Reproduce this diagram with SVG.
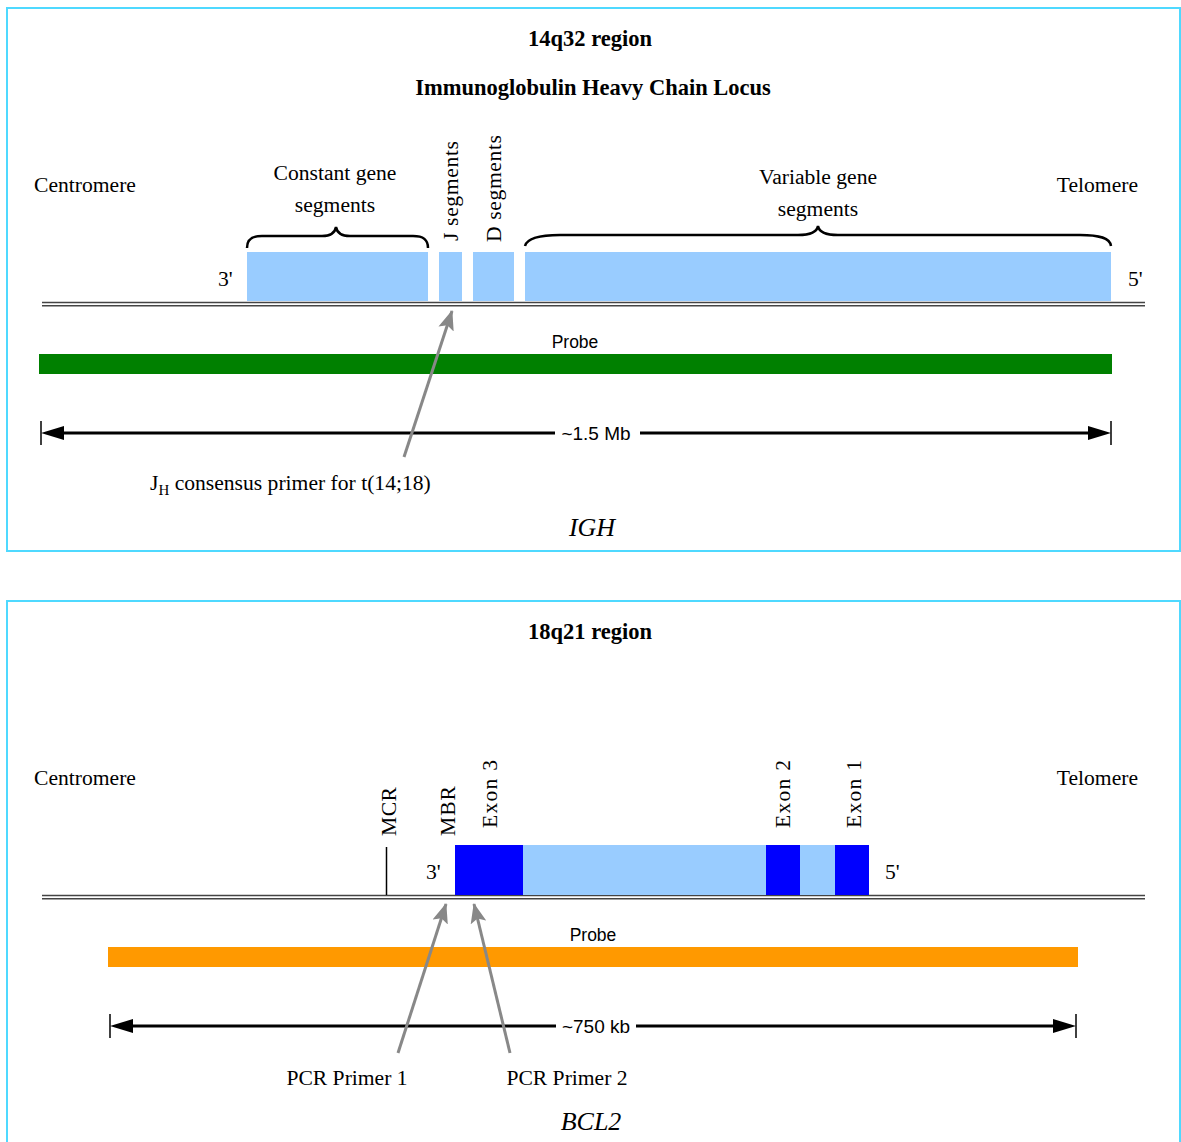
<svg xmlns="http://www.w3.org/2000/svg" width="1181" height="1142" viewBox="0 0 1181 1142">
<style>
.panel{fill:#fff;stroke:#4fd9ff;stroke-width:2}
.serif{font-family:"Liberation Serif","Times New Roman",serif;fill:#000}
.t{font-size:21.6px}
.title{font-size:22.5px;font-weight:bold}
.sans{font-family:"Liberation Sans",Arial,sans-serif;font-size:17.5px;fill:#000}
.dimtxt{font-size:19px}
.chrom{stroke:#444;stroke-width:1.4}
.brace{fill:none;stroke:#000;stroke-width:2.5}
.dim{stroke:#000;stroke-width:3}
.tick{stroke:#000;stroke-width:1.5}
.ptr{stroke:#888;stroke-width:3}
.lb{fill:#99ccff}
.db{fill:#0000ff}
</style>
<defs>
<marker id="gray" viewBox="0 0 20 16" refX="19" refY="8" markerWidth="20" markerHeight="16" markerUnits="userSpaceOnUse" orient="auto">
<path d="M0,0 L20,8 L0,16 L4,8 Z" fill="#888"/>
</marker>
</defs>
<rect class="panel" x="7" y="8" width="1173" height="543"/>
<rect class="panel" x="7" y="601" width="1173" height="600"/>

<g id="igh-panel">
<g id="igh-titles">
<text class="serif title" x="590" y="46" text-anchor="middle">14q32 region</text>
<text class="serif title" x="593" y="95" text-anchor="middle">Immunoglobulin Heavy Chain Locus</text>
<text class="serif t" x="34" y="192">Centromere</text>
<text class="serif t" x="1138" y="192" text-anchor="end">Telomere</text>
</g>
<g id="igh-chromosome">
<line class="chrom" x1="42" y1="302.5" x2="1145" y2="302.5"/>
<line class="chrom" x1="42" y1="305.8" x2="1145" y2="305.8"/>
</g>
<g id="constant">
<rect class="lb" x="247" y="252" width="181" height="49"/>
<path class="brace" d="M247,248 C247,239 252,236 262,236 L322,236 C331,236 335,233 336,227 C337,233 341,236 350,236 L413,236 C423,236 428,239 428,248"/>
<text class="serif t" x="335" y="180" text-anchor="middle">Constant gene</text>
<text class="serif t" x="335" y="212" text-anchor="middle">segments</text>
</g>
<g id="j-seg">
<rect class="lb" x="439" y="252" width="23" height="49"/>
<text class="serif t" transform="translate(458,241) rotate(-90)" textLength="100">J segments</text>
</g>
<g id="d-seg">
<rect class="lb" x="473" y="252" width="41" height="49"/>
<text class="serif t" transform="translate(501,242) rotate(-90)" textLength="107">D segments</text>
</g>
<g id="variable">
<rect class="lb" x="525" y="252" width="586" height="49"/>
<path class="brace" d="M525,246 C527,238 540,235 560,235 L798,235 C811,235 817,232 818,226 C819,232 825,235 838,235 L1080,235 C1100,235 1110,238 1111,246"/>
<text class="serif t" x="818" y="184" text-anchor="middle">Variable gene</text>
<text class="serif t" x="818" y="216" text-anchor="middle">segments</text>
</g>
<text class="serif t" x="218" y="286">3'</text>
<text class="serif t" x="1128" y="286">5'</text>
<g id="igh-probe">
<text class="sans" x="575" y="348" text-anchor="middle">Probe</text>
<rect x="39" y="354" width="1073" height="20" fill="#008000"/>
</g>
<g id="igh-scale">
<line class="tick" x1="41" y1="421" x2="41" y2="445"/>
<line class="tick" x1="1111" y1="421" x2="1111" y2="445"/>
<line class="dim" x1="60" y1="433" x2="555" y2="433"/>
<line class="dim" x1="640" y1="433" x2="1092" y2="433"/>
<polygon points="41,433 64,426 64,440"/>
<polygon points="1111,433 1088,426 1088,440"/>
<text class="sans dimtxt" x="596" y="440" text-anchor="middle">~1.5 Mb</text>
</g>
<g id="jh-primer">
<text class="serif t" x="150" y="490">J<tspan font-size="15" dy="5">H</tspan><tspan dy="-5"> consensus primer for t(14;18)</tspan></text>
</g>
<text class="serif" x="592" y="536" text-anchor="middle" font-size="26" font-style="italic">IGH</text>
</g>

<g id="bcl2-panel">
<g id="bcl2-titles">
<text class="serif title" x="590" y="639" text-anchor="middle">18q21 region</text>
<text class="serif t" x="34" y="785">Centromere</text>
<text class="serif t" x="1138" y="785" text-anchor="end">Telomere</text>
</g>
<g id="bcl2-chromosome">
<line class="chrom" x1="42" y1="895.5" x2="1145" y2="895.5"/>
<line class="chrom" x1="42" y1="898.8" x2="1145" y2="898.8"/>
</g>
<g id="mcr">
<line x1="386.5" y1="847" x2="386.5" y2="895" stroke="#000" stroke-width="1.5"/>
<text class="serif t" transform="translate(396,836) rotate(-90)" textLength="49">MCR</text>
</g>
<g id="mbr">
<text class="serif t" transform="translate(455,836) rotate(-90)" textLength="50">MBR</text>
</g>
<g id="bcl2-gene">
<rect class="lb" x="455" y="845" width="414" height="50"/>
<rect class="db" x="455" y="845" width="68" height="50"/>
<rect class="db" x="766" y="845" width="34" height="50"/>
<rect class="db" x="835" y="845" width="34" height="50"/>
<text class="serif t" transform="translate(497,828) rotate(-90)" textLength="68">Exon 3</text>
<text class="serif t" transform="translate(790,828) rotate(-90)" textLength="68">Exon 2</text>
<text class="serif t" transform="translate(861,828) rotate(-90)" textLength="68">Exon 1</text>
<text class="serif t" x="426" y="879">3'</text>
<text class="serif t" x="885" y="879">5'</text>
</g>
<g id="bcl2-probe">
<text class="sans" x="593" y="941" text-anchor="middle">Probe</text>
<rect x="108" y="947" width="970" height="20" fill="#ff9900"/>
</g>
<g id="bcl2-scale">
<line class="tick" x1="110" y1="1014" x2="110" y2="1038"/>
<line class="tick" x1="1076" y1="1014" x2="1076" y2="1038"/>
<line class="dim" x1="128" y1="1026" x2="556" y2="1026"/>
<line class="dim" x1="636" y1="1026" x2="1057" y2="1026"/>
<polygon points="110,1026 133,1019 133,1033"/>
<polygon points="1076,1026 1053,1019 1053,1033"/>
<text class="sans dimtxt" x="596" y="1033" text-anchor="middle">~750 kb</text>
</g>
<g id="primer1">
<text class="serif t" x="347" y="1085" text-anchor="middle">PCR Primer 1</text>
</g>
<g id="primer2">
<text class="serif t" x="567" y="1085" text-anchor="middle">PCR Primer 2</text>
</g>
<text class="serif" x="591" y="1130" text-anchor="middle" font-size="26" font-style="italic">BCL2</text>
</g>

<g id="connectors">
<line class="ptr" x1="404" y1="457" x2="452" y2="311" marker-end="url(#gray)"/>
<line class="ptr" x1="398" y1="1053" x2="446" y2="904" marker-end="url(#gray)"/>
<line class="ptr" x1="510" y1="1053" x2="474" y2="904" marker-end="url(#gray)"/>
</g>
</svg>
